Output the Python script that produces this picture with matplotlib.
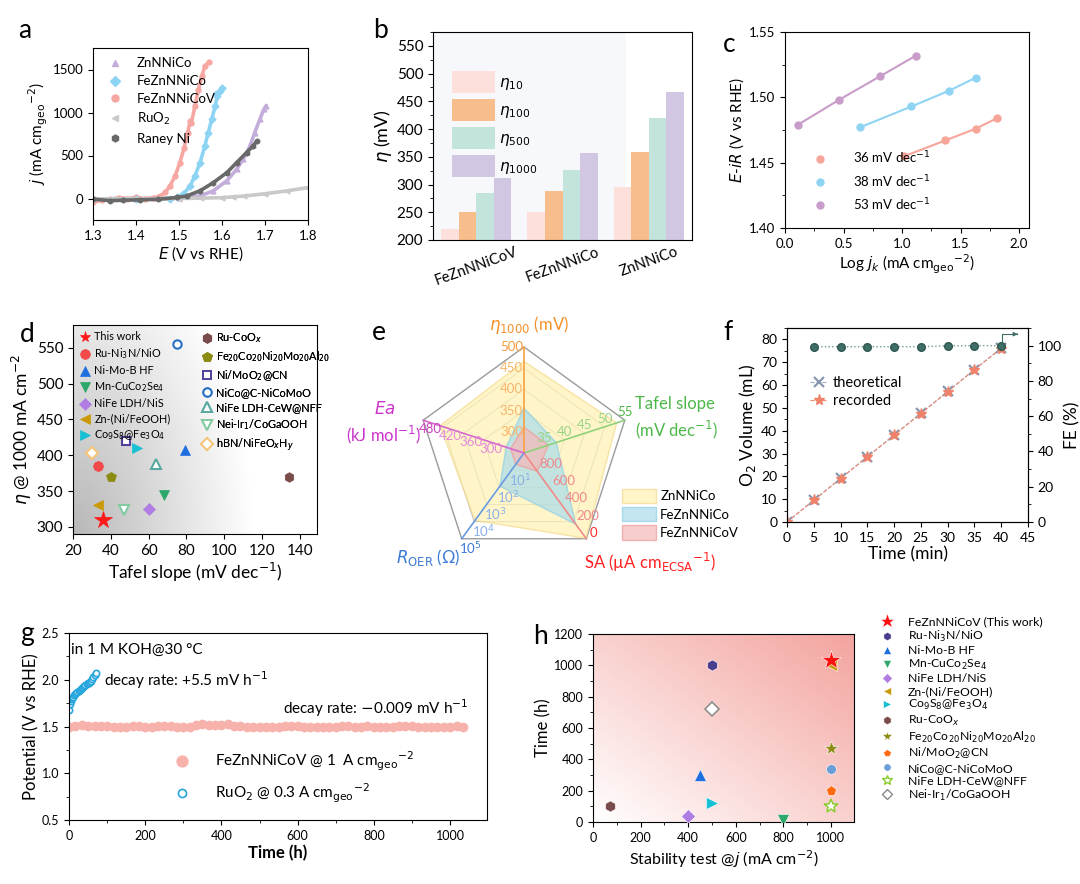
import numpy as np
import matplotlib
matplotlib.use('Agg')
import matplotlib.pyplot as plt
from matplotlib.patches import Polygon, Patch
from matplotlib.lines import Line2D
from matplotlib.ticker import MultipleLocator

plt.rcParams['font.family'] = ['Lato', 'DejaVu Sans']
plt.rcParams['mathtext.fontset'] = 'dejavusans'
plt.rcParams['axes.linewidth'] = 0.8
plt.rcParams['xtick.direction'] = 'out'
plt.rcParams['ytick.direction'] = 'out'
plt.rcParams['xtick.major.size'] = 3.5
plt.rcParams['ytick.major.size'] = 3.5
plt.rcParams['xtick.minor.size'] = 2
plt.rcParams['ytick.minor.size'] = 2
plt.rcParams['xtick.labelsize'] = 9.5
plt.rcParams['ytick.labelsize'] = 9.5
plt.rcParams['axes.labelsize'] = 11

# ---------------- data ----------------
# a: LSV curves
a_znnico_x = [1.30, 1.40, 1.50, 1.549, 1.580, 1.611, 1.634, 1.649, 1.665, 1.676, 1.688, 1.697, 1.703]
a_znnico_y = [-10, -5, 5, 30, 90, 205, 340, 456, 610, 765, 920, 1035, 1080]
a_feznnico_x = [1.30, 1.40, 1.48, 1.495, 1.510, 1.526, 1.537, 1.549, 1.560, 1.568, 1.576, 1.584, 1.589, 1.586, 1.595, 1.601]
a_feznnico_y = [-10, -5, 0, 12, 50, 147, 263, 417, 610, 765, 920, 1073, 1190, 1210, 1247, 1286]
a_feznnicov_x = [1.30, 1.32, 1.34, 1.36, 1.38, 1.40, 1.42, 1.44, 1.456, 1.468, 1.479, 1.491, 1.502, 1.512,
                 1.520, 1.526, 1.529, 1.537, 1.545, 1.553, 1.560, 1.570]
a_feznnicov_y = [-45, -20, -8, 10, 0, 12, 0, 8, 30, 70, 147, 263, 417, 590, 765, 900, 880, 1073, 1266, 1420,
                 1537, 1590]
a_ruo2_x = [1.30, 1.35, 1.40, 1.45, 1.50, 1.55, 1.60, 1.626, 1.65, 1.70, 1.75, 1.80]
a_ruo2_y = [-8, -7, -5, -3, 0, 4, 10, 19, 28, 55, 88, 127]
a_raney_x = [1.30, 1.34, 1.37, 1.41, 1.45, 1.495, 1.518, 1.549, 1.580, 1.611, 1.634, 1.657, 1.672, 1.681]
a_raney_y = [-8, -25, -20, -15, -10, 12, 30, 90, 185, 300, 417, 533, 610, 668]

# b: overpotentials
b_cats = ['FeZnNNiCoV', 'FeZnNNiCo', 'ZnNNiCo']
b_series = [r'$\eta_{10}$', r'$\eta_{100}$', r'$\eta_{500}$', r'$\eta_{1000}$']
b_vals = [[220, 250, 296], [250, 288, 358], [285, 327, 420], [311, 356, 466]]

# c: Tafel
c_labels = [r'36 mV dec$^{-1}$', r'38 mV dec$^{-1}$', r'53 mV dec$^{-1}$']
c_x = [[1.02, 1.37, 1.63, 1.81], [0.64, 1.08, 1.40, 1.63], [0.11, 0.46, 0.81, 1.12]]
c_y = [[1.455, 1.467, 1.476, 1.484], [1.477, 1.493, 1.505, 1.515], [1.479, 1.498, 1.516, 1.532]]

# d: comparison eta@1000 vs Tafel slope
d_names = ['This work', r'Ru-Ni$_3$N/NiO', 'Ni-Mo-B HF', r'Mn-CuCo$_2$Se$_4$', 'NiFe LDH/NiS',
           'Zn-(Ni/FeOOH)', r'Co$_9$S$_8$@Fe$_3$O$_4$', r'Ru-CoO$_x$',
           r'Fe$_{20}$Co$_{20}$Ni$_{20}$Mo$_{20}$Al$_{20}$', r'Ni/MoO$_2$@CN', 'NiCo@C-NiCoMoO',
           'NiFe LDH-CeW@NFF', r'Nei-Ir$_1$/CoGaOOH', r'hBN/NiFeO$_x$H$_y$']
d_tafel = [36, 33, 79, 68, 60, 33, 54, 134, 40, 48, 75, 64, 47, 30]
d_eta = [310, 385, 407, 345, 325, 330, 410, 370, 370, 420, 555, 388, 323, 403]

# e: radar
e_names = ['ZnNNiCo', 'FeZnNNiCo', 'FeZnNNiCoV']
e_eta = [466, 356, 311]
e_tafel = [53, 38, 36]
e_sa = [5, 170, 787]
e_roer = [8500, 85, 4.6]
e_ea = [430, 233, 220]

# f: Faradaic efficiency
f_t = [0, 5, 10, 15, 20, 25, 30, 35, 40]
f_theo = [0, 9.6, 19.2, 28.6, 38.2, 47.7, 57.2, 66.8, 76.3]
f_rec = [0, 9.5, 19.0, 28.5, 38.0, 47.5, 57.1, 66.8, 76.0]
f_fe_t = [5, 10, 15, 20, 25, 30, 35, 40]
f_fe = [99.4, 99.4, 99.4, 99.4, 99.4, 99.9, 100.0, 100.0]

# g: stability
g_t = [0, 17, 33, 50, 67, 83, 100, 117, 133, 150, 167, 183, 200, 217, 233, 250, 267, 283, 300, 317, 333,
       350, 367, 383, 400, 417, 433, 450, 467, 483, 500, 517, 533, 550, 567, 583, 600, 617, 633, 650, 667,
       683, 700, 717, 733, 750, 767, 783, 800, 817, 833, 850, 867, 883, 900, 917, 933, 950, 967, 983, 1000,
       1017, 1033]
g_v = [1.50, 1.51, 1.52, 1.51, 1.51, 1.51, 1.51, 1.50, 1.50, 1.50, 1.51, 1.51, 1.50, 1.50, 1.51, 1.51,
       1.51, 1.49, 1.50, 1.50, 1.52, 1.53, 1.52, 1.52, 1.52, 1.53, 1.51, 1.51, 1.50, 1.50, 1.50, 1.50,
       1.50, 1.49, 1.51, 1.51, 1.51, 1.49, 1.50, 1.50, 1.50, 1.50, 1.50, 1.51, 1.51, 1.49, 1.50, 1.51,
       1.50, 1.49, 1.50, 1.50, 1.51, 1.51, 1.51, 1.50, 1.50, 1.50, 1.49, 1.50, 1.50, 1.51, 1.50]
g_ruo2_t = [0, 2, 4, 6, 8, 10, 13, 16, 19, 22, 25, 28, 31, 34, 37, 40, 43, 46, 49, 52, 55, 58, 61, 64, 67, 70]
g_ruo2_v = [1.68, 1.74, 1.77, 1.79, 1.80, 1.82, 1.84, 1.85, 1.86, 1.87, 1.88, 1.89, 1.90, 1.91, 1.92, 1.93,
            1.94, 1.95, 1.96, 1.97, 1.98, 1.99, 2.01, 2.03, 2.05, 2.07]

# h: stability comparison
h_names = ['FeZnNNiCoV (This work)', r'Ru-Ni$_3$N/NiO', 'Ni-Mo-B HF', r'Mn-CuCo$_2$Se$_4$', 'NiFe LDH/NiS',
           'Zn-(Ni/FeOOH)', r'Co$_9$S$_8$@Fe$_3$O$_4$', r'Ru-CoO$_x$',
           r'Fe$_{20}$Co$_{20}$Ni$_{20}$Mo$_{20}$Al$_{20}$', r'Ni/MoO$_2$@CN', 'NiCo@C-NiCoMoO',
           'NiFe LDH-CeW@NFF', r'Nei-Ir$_1$/CoGaOOH']
h_j = [1000, 500, 450, 800, 400, 1000, 500, 70, 1000, 1000, 1000, 1000, 500]
h_time = [1035, 1000, 300, 10, 40, 1000, 120, 100, 470, 200, 340, 100, 720]

# ---------------- figure ----------------
W, H = 1080, 884
fig = plt.figure(figsize=(W / 100, H / 100), dpi=100)


def add_ax(l, t, r, b):
    return fig.add_axes([l / W, 1 - b / H, (r - l) / W, (b - t) / H])


def letter(x, y, s):
    fig.text(x / W, 1 - y / H, s, fontsize=19, va='center', ha='left')


# ---- a ----
ax = add_ax(93, 48, 308, 220)
a_sets = [(a_znnico_x, a_znnico_y, '#c3addb', '^', 'ZnNNiCo'),
          (a_feznnicov_x, a_feznnicov_y, '#f7a7a2', 'o', 'FeZnNNiCoV'),
          (a_feznnico_x, a_feznnico_y, '#8dd4f4', 'D', 'FeZnNNiCo'),
          (a_ruo2_x, a_ruo2_y, '#c9c9c9', '<', r'RuO$_2$'),
          (a_raney_x, a_raney_y, '#696969', 'h', 'Raney Ni')]
for x, y, c, m, lab in a_sets:
    ax.plot(x, y, color=c, lw=2.6, marker=m, ms=3.5, solid_capstyle='round')
a_handles = [Line2D([], [], ls='none', marker=m, color=c, ms=5, label=lab)
             for x, y, c, m, lab in [a_sets[0], a_sets[2], a_sets[1], a_sets[3], a_sets[4]]]
ax.legend(handles=a_handles, loc='upper left', frameon=False, fontsize=9.5, handletextpad=0.6,
          labelspacing=0.45, borderaxespad=0.3)
ax.set_xlim(1.3, 1.8)
ax.set_ylim(-250, 1750)
ax.xaxis.set_major_locator(MultipleLocator(0.1))
ax.yaxis.set_major_locator(MultipleLocator(500))
ax.set_xlabel(r'$E$ (V vs RHE)', labelpad=2)
ax.set_ylabel(r'$j$ (mA cm$_{\rm geo}$$^{-2}$)', labelpad=2)
letter(18, 30, 'a')

# ---- b ----
ax = add_ax(433, 32, 692, 240)
ax.axvspan(-0.5, 1.74, color='#f6f8fc', zorder=0, lw=0)
b_colors = ['#fde0dc', '#f7be8b', '#c3e4dc', '#d2c7e3']
bw = 0.204
xc = np.arange(len(b_cats))
for i, (vals, lab) in enumerate(zip(b_vals, b_series)):
    ax.bar(xc + (i - 1.5) * bw, vals, width=bw, color=b_colors[i], label=lab, zorder=2)
ax.set_xlim(-0.5, 2.5)
ax.set_ylim(200, 575)
ax.yaxis.set_major_locator(MultipleLocator(50))
ax.yaxis.set_minor_locator(MultipleLocator(25))
ax.set_xticks(xc)
ax.set_xticklabels(b_cats, rotation=20, fontsize=10.5)
ax.tick_params(axis='x', length=0)
ax.tick_params(axis='y', labelsize=11)
ax.set_ylabel(r'$\eta$ (mV)', fontsize=13, labelpad=2)
ax.legend(loc='upper left', bbox_to_anchor=(0.02, 0.88), frameon=False, fontsize=11, handlelength=2.8,
          handleheight=1.9, labelspacing=0.35, handletextpad=0.3)
letter(373, 30, 'b')

# ---- c ----
ax = add_ax(785, 32, 1029, 228)
c_colors = ['#f6a598', '#8fd4f2', '#c99cca']
for x, y, col, lab in zip(c_x, c_y, c_colors, c_labels):
    ax.plot(x, y, color=col, lw=1.5, marker='o', ms=5, label=lab)
ax.set_xlim(0, 2.085)
ax.set_ylim(1.40, 1.55)
ax.xaxis.set_major_locator(MultipleLocator(0.5))
ax.xaxis.set_minor_locator(MultipleLocator(0.25))
ax.yaxis.set_major_locator(MultipleLocator(0.05))
ax.yaxis.set_minor_locator(MultipleLocator(0.025))
ax.set_xlabel(r'Log $j_k$ (mA cm$_{\rm geo}$$^{-2}$)', labelpad=2)
ax.set_ylabel(r'$E$-$iR$ (V vs RHE)', labelpad=2)
c_handles = [Line2D([], [], ls='none', marker='o', color=col, ms=5, label=lab)
             for col, lab in zip(c_colors, c_labels)]
ax.legend(handles=c_handles, loc='upper left', bbox_to_anchor=(0.04, 0.46), frameon=False, fontsize=9.5,
          handletextpad=1.5, labelspacing=0.5)
letter(723, 44, 'c')

# ---- d ----
ax = add_ax(73, 325, 317, 534)
gx, gy = np.meshgrid(np.linspace(0, 1, 200), np.linspace(0, 1, 200))
shade = np.clip(0.72 + 0.3 * np.sqrt((gx / 0.8) ** 2 + (gy / 1.6) ** 2), 0, 1)
ax.imshow(shade, extent=(20, 149, 290, 582), origin='lower', cmap='gray', vmin=0, vmax=1,
          aspect='auto', zorder=0)
d_style = [('*', '#ff1a1a', True, 13), ('o', '#f24a4a', True, 7), ('^', '#1f6fe0', True, 7),
           ('v', '#2ba86a', True, 7), ('D', '#b07de2', True, 6), ('<', '#c99a06', True, 7),
           ('>', '#17c0d2', True, 7), ('h', '#7a4b4b', True, 7), ('p', '#8c8c12', True, 7),
           ('s', '#55409a', False, 6), ('o', '#2a70c2', False, 6), ('^', '#5aa9a0', False, 7),
           ('v', '#83caa2', False, 7), ('D', '#f6c57a', False, 6)]
d_handles = []
for nm, tx, ey, (m, c, filled, s) in zip(d_names, d_tafel, d_eta, d_style):
    fc = c if filled else 'white'
    ax.plot(tx, ey, ls='none', marker=m, ms=s, mfc=fc, mec=c, mew=1.5 if not filled else 0.5, zorder=3)
    d_handles.append(Line2D([], [], ls='none', marker=m, ms=min(s, 8), mfc=fc, mec=c,
                            mew=1.4 if not filled else 0.5, label=nm))
for hs, x0 in [(d_handles[:7], 0.008), (d_handles[7:], 0.508)]:
    lg = ax.legend(handles=hs, loc='upper left', bbox_to_anchor=(x0, 0.985), fontsize=7.8, fancybox=False,
                   framealpha=0, edgecolor='#333333', labelspacing=0.38, handletextpad=0.3,
                   borderpad=0.3, borderaxespad=0, handlelength=1.2)
    lg.get_frame().set_linestyle(':')
    ax.add_artist(lg)
ax.set_xlim(20, 149)
ax.set_ylim(290, 582)
ax.xaxis.set_major_locator(MultipleLocator(20))
ax.yaxis.set_major_locator(MultipleLocator(50))
ax.tick_params(labelsize=11)
ax.set_xlabel(r'Tafel slope (mV dec$^{-1}$)', fontsize=12.5, labelpad=2)
ax.set_ylabel(r'$\eta$ @ 1000 mA cm$^{-2}$', fontsize=12.5, labelpad=2)
letter(20, 335, 'd')

# ---- e (radar) ----
ax = add_ax(330, 300, 730, 605)
ax.set_xlim(-194, 206)
ax.set_ylim(-152, 153)
ax.axis('off')
R = 106
ang = np.deg2rad([90, 18, -54, -126, 162])


def norm_vals(eta, taf, sa, roer, ea):
    return np.array([(eta - 250) / 250, (taf - 30) / 25, 1 - sa / 1000, np.log10(roer) / 5, (ea - 180) / 300])


def xy(fr):
    return np.column_stack([R * fr * np.cos(ang), R * fr * np.sin(ang)])


for k in range(1, 6):
    ax.add_patch(Polygon(xy(np.full(5, k / 5)), closed=True, fill=False,
                         ec='#9a9a9a' if k == 5 else '#c4c4c4', lw=1.0 if k == 5 else 0.8, zorder=1))
spoke_cols = ['#f7a040', '#8fd27a', '#f08a8a', '#6a9ae0', '#d668cc']
for a_, c in zip(ang, spoke_cols):
    ax.plot([0, R * np.cos(a_)], [0, R * np.sin(a_)], color=c, lw=1.2, zorder=4)
e_fill = [('#fff2b3', '#f4da8c'), ('#aadcea', '#8ccfe6'), ('#f6b8b8', '#f09a9a')]
for i, nm in enumerate(e_names):
    fr = norm_vals(e_eta[i], e_tafel[i], e_sa[i], e_roer[i], e_ea[i])
    fc, ec = e_fill[i]
    ax.add_patch(Polygon(xy(fr), closed=True, fc=fc, ec=ec, alpha=0.7, lw=1, zorder=2 + i * 0.1))
# tick labels along the axes
tk = dict(fontsize=9.5, zorder=5)
for k, lab in enumerate(['300', '350', '400', '450', '500']):
    r = R * (k + 1) / 5
    ax.text(-1, r, lab, ha='right', va='center', color='#f49a3a' if k == 4 else '#f7b56a', **tk)
for k, lab in enumerate(['35', '40', '45', '50', '55']):
    r = R * (k + 1) / 5
    ax.text(r * np.cos(ang[1]), r * np.sin(ang[1]) + 2, lab, ha='center', va='bottom',
            color='#4cb848' if k == 4 else '#96d486', **tk)
for k, lab in enumerate(['800', '600', '400', '200', '0']):
    r = R * (k + 1) / 5
    ax.text(r * np.cos(ang[2]) + 3, r * np.sin(ang[2]) + 6, lab, ha='left', va='center',
            color='#ff2a2a' if k == 4 else '#f0888a', **tk)
for k in range(5):
    r = R * (k + 1) / 5
    ax.text(r * np.cos(ang[3]) + 9, r * np.sin(ang[3]) - 2, r'10$^{%d}$' % (k + 1), ha='center', va='top',
            color='#3a7ad8' if k == 4 else '#8ab0e6', **tk)
for k, lab in enumerate(['300', '360', '420', '480']):
    r = R * (k + 2) / 5
    ax.text(r * np.cos(ang[4]) + 7, r * np.sin(ang[4]) - 3, lab, ha='center', va='top',
            color='#cc44c0' if k == 3 else '#e48ad8', **tk)
ax.text(5, 128, r'$\eta_{1000}$ (mV)', color='#f6902a', fontsize=12, ha='center', va='center')
ax.text(111, 49, 'Tafel slope', color='#4cb848', fontsize=12, ha='left', va='center')
ax.text(111, 23, r'(mV dec$^{-1}$)', color='#4cb848', fontsize=12, ha='left', va='center')
ax.text(126, -109, r'SA (µA cm$_{\rm ECSA}$$^{-1}$)', color='#ff2020', fontsize=12, ha='center',
        va='center')
ax.text(-96, -105, r'$R_{\rm OER}$ (Ω)', color='#3a7ad8', fontsize=12, ha='center', va='center')
ax.text(-139, 45, r'$Ea$', color='#cc33cc', fontsize=12, ha='center', va='center')
ax.text(-141, 18, r'(kJ mol$^{-1}$)', color='#cc33cc', fontsize=12, ha='center', va='center')
e_handles = [Patch(fc=fc, ec=ec, alpha=0.7, label=nm) for (fc, ec), nm in zip(e_fill, e_names)]
ax.legend(handles=e_handles, loc='upper left', bbox_to_anchor=(0.70, 0.42), frameon=False, fontsize=9.5,
          handlelength=2.6, handleheight=1.3, labelspacing=0.3, handletextpad=0.3)
letter(372, 333, 'e')

# ---- f ----
ax = add_ax(787, 328, 1028, 522)
ax2 = ax.twinx()
ax.plot(f_t, f_theo, ls='--', lw=0.8, color='#9fb0c8', marker='x', ms=7, mew=1.6, mec='#8797b0',
        label='theoretical', zorder=3)
ax.plot(f_t, f_rec, ls='--', lw=0.8, color='#f08a70', marker='*', ms=8, mfc='#f0826a', mec='#f0826a',
        label='recorded', zorder=4)
ax2.plot(f_fe_t, f_fe, ls=':', lw=1, color='#6f9a92', marker='o', ms=5.5, mfc='#3f6e66', mec='#2f5850')
ax2.plot([40.2, 40.2, 43.0], [101.5, 106.5, 106.5], color='#3f6e66', lw=0.8)
ax2.annotate('', xy=(43.6, 106.5), xytext=(42.5, 106.5),
             arrowprops=dict(arrowstyle='-|>', color='#3f6e66', lw=0.8, mutation_scale=6))
ax.set_xlim(0, 45)
ax.set_ylim(0, 85)
ax2.set_ylim(0, 110)
ax.xaxis.set_major_locator(MultipleLocator(5))
ax.yaxis.set_major_locator(MultipleLocator(10))
ax.yaxis.set_minor_locator(MultipleLocator(5))
ax2.yaxis.set_major_locator(MultipleLocator(20))
ax2.yaxis.set_minor_locator(MultipleLocator(10))
ax.tick_params(labelsize=10)
ax2.tick_params(labelsize=10)
ax.set_xlabel('Time (min)', fontsize=12.5, labelpad=2)
ax.set_ylabel(r'O$_2$ Volume (mL)', fontsize=12.5, labelpad=2)
ax2.set_ylabel('FE (%)', fontsize=12.5, labelpad=2)
ax.legend(loc='upper left', bbox_to_anchor=(0.04, 0.82), frameon=False, fontsize=10.5, handletextpad=0.4,
          labelspacing=0.3, handlelength=1.2)
letter(723, 333, 'f')

# ---- g ----
ax = add_ax(69, 633, 487, 820)
ax.plot(g_t, g_v, ls='none', marker='o', ms=6, mfc='#f8b2ac', mec='#f8b2ac',
        label=r'FeZnNNiCoV @ 1  A cm$_{\rm geo}$$^{-2}$')
ax.plot(g_ruo2_t, g_ruo2_v, ls='none', marker='o', ms=4.5, mfc='white', mec='#27a6de', mew=1.2,
        label=r'RuO$_2$ @ 0.3 A cm$_{\rm geo}$$^{-2}$')
ax.set_xlim(0, 1097)
ax.set_ylim(0.5, 2.5)
ax.xaxis.set_major_locator(MultipleLocator(200))
ax.xaxis.set_minor_locator(MultipleLocator(100))
ax.yaxis.set_major_locator(MultipleLocator(0.5))
ax.yaxis.set_minor_locator(MultipleLocator(0.25))
ax.tick_params(labelsize=9)
ax.text(5, 2.32, 'in 1 M KOH@30 °C', fontsize=11, va='center')
ax.text(92, 2.0, r'decay rate: +5.5 mV h$^{-1}$', fontsize=11, va='center')
ax.text(561, 1.70, r'decay rate: $-$0.009 mV h$^{-1}$', fontsize=11, va='center')
ax.legend(loc='upper left', bbox_to_anchor=(0.2, 0.45), frameon=False, fontsize=11, handletextpad=1.2,
          labelspacing=0.6, markerscale=1.3)
ax.set_xlabel('Time (h)', fontsize=12, fontweight='bold', labelpad=2)
ax.set_ylabel('Potential (V vs RHE)', fontsize=12, labelpad=2)
letter(20, 634, 'g')

# ---- h ----
ax = add_ax(593, 634, 854, 822)
gx, gy = np.meshgrid(np.linspace(0, 1, 200), np.linspace(0, 1, 200))
t = np.clip((gx + gy) / 2.0, 0, 1)[..., None]
pink = np.array([0.955, 0.64, 0.62])
ax.imshow(1 - t * (1 - pink), extent=(0, 1100, 0, 1200), origin='lower', aspect='auto', zorder=0)
h_style = [('*', '#ff1010', True, 15), ('h', '#4b3d8e', True, 8), ('^', '#1f6fe0', True, 8),
           ('v', '#2ba86a', True, 8), ('D', '#b07de2', True, 7), ('<', '#c99a06', True, 8),
           ('>', '#17c0d2', True, 8), ('h', '#7a4b4b', True, 8), ('*', '#8c8c12', True, 10),
           ('p', '#ff6a10', True, 8), ('o', '#6a9ed8', True, 7), ('*', '#8ccc30', False, 10),
           ('D', '#8a8a8a', False, 7)]
h_handles = []
for nm, jx, tm, (m, c, filled, s) in zip(h_names, h_j, h_time, h_style):
    fc = c if filled else 'white'
    ax.plot(jx, tm, ls='none', marker=m, ms=s, mfc=fc, mec=c if not filled else 'white',
            mew=1.1 if not filled else 0.4, zorder=3 if nm != h_names[0] else 5)
    h_handles.append(Line2D([], [], ls='none', marker=m, ms=s * 0.75, mfc=fc, mec=c if not filled else 'white',
                            mew=1.0 if not filled else 0.4, label=nm))
ax.set_xlim(0, 1097)
ax.set_ylim(0, 1200)
ax.xaxis.set_major_locator(MultipleLocator(200))
ax.xaxis.set_minor_locator(MultipleLocator(100))
ax.yaxis.set_major_locator(MultipleLocator(200))
ax.yaxis.set_minor_locator(MultipleLocator(100))
ax.tick_params(labelsize=9)
ax.set_xlabel(r'Stability test @$j$ (mA cm$^{-2}$)', fontsize=11.5, labelpad=3)
ax.set_ylabel('Time (h)', fontsize=12, labelpad=2)
ax.legend(handles=h_handles, loc='upper left', bbox_to_anchor=(1.08, 1.12), frameon=False, fontsize=8.8,
          labelspacing=0.12, handletextpad=1.1, handlelength=1.2, borderaxespad=0)
letter(533, 636, 'h')

fig.savefig('out.png', dpi=100)
